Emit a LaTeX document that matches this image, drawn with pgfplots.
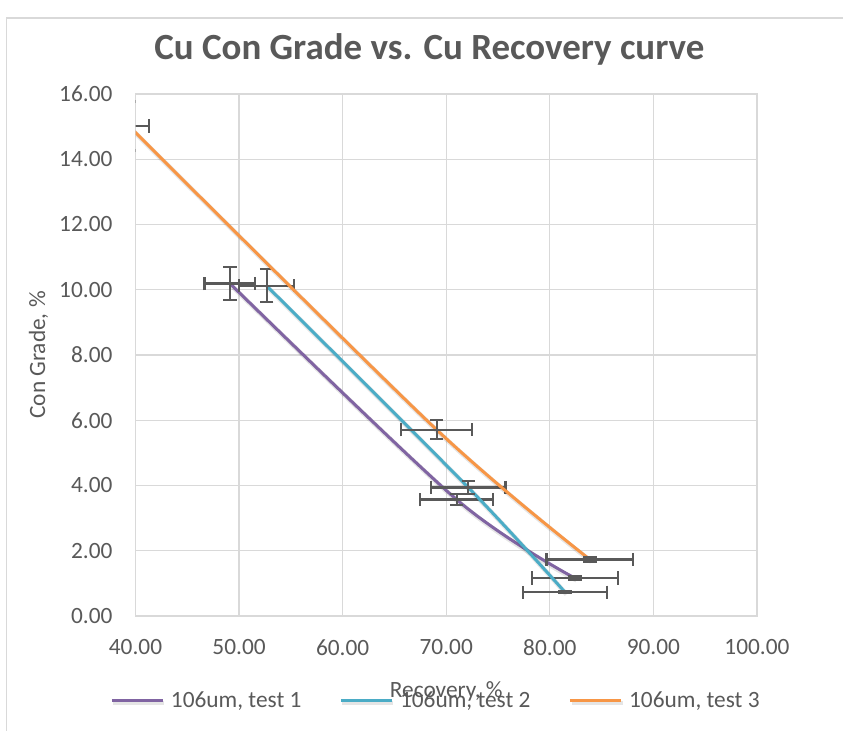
\documentclass[border=0pt]{standalone}
\usepackage{pgfplots}
\pgfplotsset{compat=1.18}
\usepackage{fontspec}
\setmainfont{Carlito}
\definecolor{txtgray}{RGB}{89,89,89}
\definecolor{gridgray}{RGB}{217,217,217}
\definecolor{errgray}{RGB}{89,89,89}
\definecolor{cpurple}{RGB}{128,100,162}
\definecolor{ccyan}{RGB}{75,172,198}
\definecolor{corange}{RGB}{247,150,70}
\newcommand\lbl{\fontsize{17.5pt}{21pt}\selectfont}
\begin{document}
\begin{tikzpicture}
\useasboundingbox (0,0) rectangle (632.25pt,548.25pt);
\fill[white] (0,0) rectangle (632.25pt,548.25pt);
\draw[gridgray, line width=0.9pt] (5pt,-20pt) -- (5pt,534.75pt) -- (700pt,534.75pt);
\begin{axis}[
  at={(101.625pt,86.25pt)}, anchor=south west,
  scale only axis, width=466.125pt, height=391.5pt,
  xmin=40, xmax=100, ymin=0, ymax=16,
  xtick={40,50,...,100}, ytick={0,2,...,16},
  grid=major, major grid style={gridgray, line width=0.9pt},
  axis line style={gridgray, line width=0.9pt},
  tick style={draw=none},
  /pgf/number format/.cd, fixed, fixed zerofill, precision=2, assume math mode=true, 1000 sep={},
  /pgfplots/.cd,
  xticklabel style={font=\lbl, text=txtgray, anchor=north, inner sep=0pt, yshift=-17.25pt},
  yticklabel style={font=\lbl, text=txtgray, anchor=east, inner sep=0pt, xshift=-17.1pt},
  title={Cu Con Grade vs. Cu Recovery curve},
  title style={font=\fontsize{27.7pt}{33pt}\selectfont\bfseries, text=txtgray, at={(axis description cs:0.473,1.0504)}, anchor=base, inner sep=0pt},
  xlabel={Recovery, \%},
  xlabel style={font=\lbl, text=txtgray, at={(axis description cs:0.5,-0.157)}, anchor=base, inner sep=0pt},
  ylabel={Con Grade, \%},
  ylabel style={font=\lbl, text=txtgray, at={(axis description cs:-0.1456,0.5)}, anchor=base, inner sep=0pt},
  legend columns=3,
  legend image code/.code={\draw[#1] (0pt,0pt) -- (38.25pt,0pt);},
  legend style={at={(axis description cs:-0.041,-0.1628)}, anchor=west, draw=none, fill=none,
    font=\lbl, text=txtgray, inner sep=0pt, nodes={inner sep=0pt},
    /tikz/every odd column/.append style={column sep=5pt},
    /tikz/every even column/.append style={column sep=28.5pt}},
]
\addplot[cpurple, line width=2.25pt, smooth,
  preaction={draw=black, draw opacity=0.10, line width=3.5pt, transform canvas={shift={(1.2pt,-1.6pt)}}},
  error bars/.cd, x dir=both, x fixed relative=0.05, y dir=both, y fixed relative=0.05,
  error mark=|,
  error bar style={errgray, line width=1.6pt},
  error mark options={errgray, line width=1.6pt, mark size=5pt}]
coordinates {(49.12,10.19) (71.0,3.57) (82.42,1.16)};
\addlegendentry{106um, test 1}
\addplot[ccyan, line width=2.25pt, smooth,
  preaction={draw=black, draw opacity=0.10, line width=3.5pt, transform canvas={shift={(1.2pt,-1.6pt)}}},
  error bars/.cd, x dir=both, x fixed relative=0.05, y dir=both, y fixed relative=0.05,
  error mark=|,
  error bar style={errgray, line width=1.6pt},
  error mark options={errgray, line width=1.6pt, mark size=5pt}]
coordinates {(52.66,10.12) (72.12,3.94) (81.46,0.73)};
\addlegendentry{106um, test 2}
\addplot[corange, line width=2.25pt, smooth,
  preaction={draw=black, draw opacity=0.10, line width=3.5pt, transform canvas={shift={(1.2pt,-1.6pt)}}},
  error bars/.cd, x dir=both, x fixed relative=0.05, y dir=both, y fixed relative=0.05,
  error mark=|,
  error bar style={errgray, line width=1.6pt},
  error mark options={errgray, line width=1.6pt, mark size=5pt}]
coordinates {(39.36,15.02) (69.07,5.71) (83.87,1.73)};
\addlegendentry{106um, test 3}
\end{axis}
\end{tikzpicture}
\end{document}
